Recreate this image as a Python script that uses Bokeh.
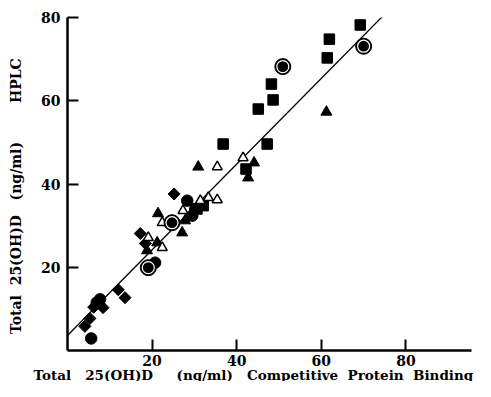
from bokeh.plotting import figure
from bokeh.models import Range1d, FixedTicker, Title
from bokeh.embed import file_html
from bokeh.resources import INLINE
import math

# ---- data ----
circ_x = [5.6, 6.9, 7.7, 20.7, 28.3, 29.5, 30.2]
circ_y = [2.9, 11.5, 12.3, 21.1, 36.0, 32.4, 34.0]

ring_x = [19.1, 24.7, 50.9, 70.0]
ring_y = [19.9, 30.7, 68.2, 73.1]

dia_x = [4.1, 5.3, 6.2, 8.4, 12.0, 13.6, 17.2, 18.4, 25.2]
dia_y = [5.8, 7.7, 10.4, 10.3, 14.6, 12.7, 28.1, 25.7, 37.6]

sq_x = [30.6, 32.1, 36.8, 42.2, 45.1, 47.2, 48.2, 48.6, 61.4, 61.9, 69.2]
sq_y = [34.0, 34.8, 49.6, 43.6, 58.0, 49.6, 64.0, 60.2, 70.3, 74.8, 78.2]

tri_x = [18.8, 21.2, 21.4, 27.1, 27.8, 30.9, 42.7, 44.1, 61.2]
tri_y = [24.0, 25.9, 32.9, 28.3, 31.2, 44.1, 41.5, 45.1, 57.3]

otri_x = [19.1, 22.4, 22.4, 27.3, 31.4, 33.3, 35.4, 35.4, 41.5]
otri_y = [27.1, 24.7, 30.7, 33.6, 36.0, 36.7, 36.2, 44.1, 46.3]

reg_x = [0, 74.5]
reg_y = [3.6, 80.3]

ticks = [20, 40, 60, 80]

NB = "\u00a0"
x_words = ["Total", "25(OH)D", "(ng/ml)", "Competitive", "Protein", "Binding"]
y_words = ["Total", "25(OH)D", "(ng/ml)", "HPLC"]

FONT = "DejaVu Serif"

p = figure(width=475, height=381, output_backend="svg", toolbar_location=None,
           x_range=Range1d(0, 95.5), y_range=Range1d(0, 80),
           min_border_left=67, min_border_right=4, min_border_top=17, min_border_bottom=31)
p.xgrid.visible = False
p.ygrid.visible = False
p.outline_line_color = None
p.background_fill_color = "white"
p.border_fill_color = "white"

for ax in (p.xaxis[0], p.yaxis[0]):
    ax.ticker = FixedTicker(ticks=ticks)
    ax.axis_line_width = 2.5
    ax.axis_line_color = "black"
    ax.major_tick_line_width = 2
    ax.major_tick_line_color = "black"
    ax.major_tick_in = 11
    ax.major_tick_out = 0
    ax.minor_tick_in = 0
    ax.minor_tick_out = 0
    ax.major_label_text_font = FONT
    ax.major_label_text_font_style = "bold"
    ax.major_label_text_font_size = "14px"
    ax.major_label_text_color = "black"
    ax.axis_label_text_font = FONT
    ax.axis_label_text_font_style = "bold"
    ax.axis_label_text_font_size = "14px"
    ax.axis_label_text_color = "black"

p.xaxis.major_label_standoff = 4
p.yaxis.major_label_standoff = 7
p.yaxis.axis_label_standoff = 14

gy = [2, 3, 8]
p.yaxis.axis_label = "".join(w + NB * g for w, g in zip(y_words, gy + [0])) + NB * 5

gx = [3, 5, 3, 2, 2]
xlabel = "".join(w + NB * g for w, g in zip(x_words, gx + [0]))
p.add_layout(Title(text=xlabel, align="left", offset=-34, standoff=-8,
                   text_font=FONT, text_font_style="bold", text_font_size="13.5px",
                   text_color="black"), "below")

# regression line
p.line(reg_x, reg_y, line_color="black", line_width=1.3)

# markers
p.scatter(dia_x, dia_y, marker="square", size=8.5, angle=math.pi / 4,
          fill_color="black", line_color="black")
p.scatter(sq_x, sq_y, marker="square", size=10.5, fill_color="black", line_color="black")
p.scatter(tri_x, tri_y, marker="triangle", size=11, fill_color="black", line_color="black")
p.scatter(otri_x, otri_y, marker="triangle", size=10, fill_color="white",
          line_color="black", line_width=1.5)
p.scatter(circ_x, circ_y, marker="circle", size=11.5, fill_color="black", line_color="black")
p.scatter(ring_x, ring_y, marker="circle", size=16, fill_color="black", line_color="black")
p.scatter(ring_x, ring_y, marker="circle", size=12, fill_color="black",
          line_color="white", line_width=1.2)

open("out.html", "w").write(file_html(p, INLINE))
